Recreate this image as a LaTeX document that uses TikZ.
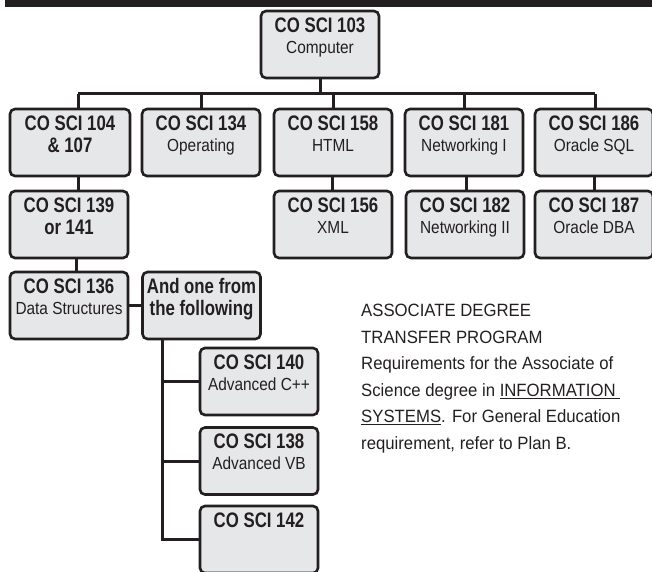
\documentclass[tikz,border=0pt]{standalone}
\usepackage{fontspec}
\setmainfont{Liberation Sans}
\newfontfamily\titlef{Liberation Sans}[FakeStretch=0.80]
\newfontfamily\subf{Liberation Sans}[FakeStretch=0.88]
\newfontfamily\parf{Liberation Sans}[FakeStretch=0.94]
\definecolor{ink}{HTML}{231F20}
\definecolor{boxfill}{HTML}{E6E7E8}
\newcommand{\bxt}[2]{\parbox[c][54pt][t]{116pt}{\centering\titlef\bfseries\fontsize{21}{22}\selectfont #1\par\subf\mdseries\fontsize{17.5}{21}\selectfont #2\par}}
\newcommand{\bxb}[2]{\parbox[c][54pt][t]{116pt}{\centering\titlef\bfseries\fontsize{21}{22}\selectfont #1\\#2\par}}
\tikzset{
  cbox/.style={draw=ink, fill=boxfill, line width=2.6pt, rounded corners=5pt,
    minimum width=118pt, minimum height=67pt, inner sep=0pt, text=ink},
  conn/.style={draw=ink, line width=3pt}
}
\begin{document}
\begin{tikzpicture}[x=1pt,y=-1pt]
\useasboundingbox (0,0) rectangle (652,571);
\clip (0,0) rectangle (652,571);
\fill[ink] (5,-2) rectangle (654,7.3);
% top
\node[cbox] (c103) at (320,44.5) {\bxt{CO SCI 103}{Computer}};
% row 1
\node[cbox, minimum width=120pt] (c104) at (70,142.5) {\bxb{CO SCI 104}{\& 107}};
\node[cbox] (c134) at (201,142.5) {\bxt{CO SCI 134}{Operating}};
\node[cbox] (c158) at (333,142.5) {\bxt{CO SCI 158}{HTML}};
\node[cbox] (c181) at (464,142.5) {\bxt{CO SCI 181}{Networking I}};
\node[cbox] (c186) at (594,142.5) {\bxt{CO SCI 186}{Oracle SQL}};
% row 2
\node[cbox] (c139) at (69,224.5) {\bxb{CO SCI 139}{or 141}};
\node[cbox] (c156) at (333,224.5) {\bxt{CO SCI 156}{XML}};
\node[cbox] (c182) at (465,224.5) {\bxt{CO SCI 182}{Networking II}};
\node[cbox] (c187) at (594,224.5) {\bxt{CO SCI 187}{Oracle DBA}};
% row 3
\node[cbox] (c136) at (69,305.5) {\bxt{CO SCI 136}{Data Structures}};
\node[cbox] (cand) at (201.5,305.5) {\bxb{And one from}{the following}};
% column
\node[cbox] (c140) at (259,381.5) {\bxt{CO SCI 140}{Advanced C++}};
\node[cbox] (c138) at (259,461) {\bxt{CO SCI 138}{Advanced VB}};
\node[cbox] (c142) at (259,539.5) {\bxt{CO SCI 142}{}};
% connectors
\coordinate (busL) at (78,93.5);
\coordinate (busR) at (595,93.5);
\coordinate (sp) at (162,0);
\draw[conn] (busL) -- (busR);
\draw[conn] (c103.south) -- (c103.south |- busL);
\draw[conn] (busL) -- (busL |- c104.north);
\draw[conn] (c134.north) -- (c134.north |- busL);
\draw[conn] (c158.north) -- (c158.north |- busL);
\draw[conn] (c181.north) -- (c181.north |- busL);
\draw[conn] (busR) -- (busR |- c186.north);
\draw[conn] (c104.south -| busL) -- (c139.north -| busL);
\draw[conn] (c139.south -| 76,0) -- (c136.north -| 76,0);
\draw[conn] (c158.south -| 332,0) -- (c156.north -| 332,0);
\draw[conn] (c181.south -| 466,0) -- (c182.north -| 466,0);
\draw[conn] (c186.south) -- (c187.north);
\draw[conn] (c136.east) -- (cand.west);
\draw[conn] (cand.south -| sp) |- (c142.west);
\draw[conn] (c140.west) -- (c140.west -| sp);
\draw[conn] (c138.west) -- (c138.west -| sp);
% note
\node[anchor=north west, inner sep=0pt, align=left, text=ink,
  font=\parf\fontsize{17.8}{26.5}\selectfont] (note) at (361,304.2)
  {ASSOCIATE DEGREE\\TRANSFER PROGRAM\\Requirements for the Associate of\\Science degree in \underline{INFORMATION\ }\\\underline{SYSTEMS}. For General Education\\requirement, refer to Plan B.};
\end{tikzpicture}
\end{document}
